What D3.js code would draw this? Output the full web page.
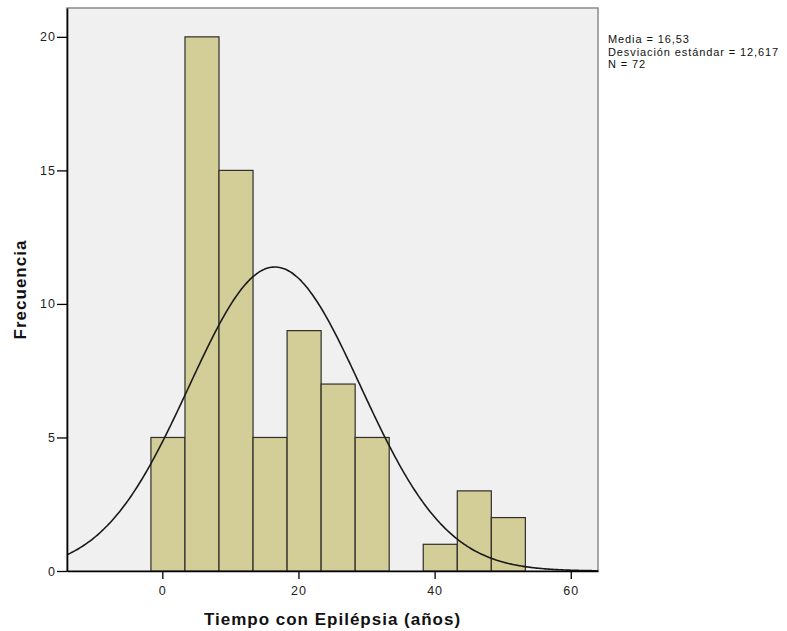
<!DOCTYPE html>
<html>
<head>
<meta charset="utf-8">
<script src="https://cdn.jsdelivr.net/npm/d3@7"></script>
<style>
  html, body { margin: 0; padding: 0; background: #ffffff; }
  svg { display: block; }
  text { font-family: Arial, "Liberation Sans", sans-serif; }
</style>
</head>
<body>
<svg id="chart" width="787" height="631"></svg>
<script>
// ---- data ----
const binStarts = [-1.67, 3.33, 8.33, 13.33, 18.33, 23.33, 28.33, 33.33, 38.33, 43.33, 48.33];
const binWidth = 5;
const counts = [5, 20, 15, 5, 9, 7, 5, 0, 1, 3, 2];
const xTicks = [0, 20, 40, 60];
const yTicks = [0, 5, 10, 15, 20];
const mean = 16.53;
const sd = 12.617;
const n = 72;
const statLines = ["Media = 16,53", "Desviación estándar = 12,617", "N = 72"];
const xTitle = "Tiempo con Epilépsia (años)";
const yTitle = "Frecuencia";

// ---- layout ----
const svg = d3.select("#chart");
const pL = 67, pR = 598, pT = 8, pB = 571;

const x = d3.scaleLinear().domain([-14, 64]).range([pL, pR]);
const y = d3.scaleLinear().domain([0, 21.08]).range([pB, pT]);

// plot background
svg.append("rect")
  .attr("x", pL).attr("y", pT)
  .attr("width", pR - pL).attr("height", pB - pT)
  .attr("fill", "#f0f0f0")
  .attr("stroke", "#8a8a8a").attr("stroke-width", 1.5);

svg.append("defs").append("clipPath").attr("id", "clip")
  .append("rect").attr("x", pL).attr("y", pT)
  .attr("width", pR - pL).attr("height", pB - pT);

// bars
const bins = binStarts.map((s, i) => ({x0: s, x1: s + binWidth, c: counts[i]}));
svg.append("g").selectAll("rect")
  .data(bins.filter(d => d.c > 0))
  .join("rect")
  .attr("x", d => x(d.x0))
  .attr("y", d => y(d.c))
  .attr("width", d => x(d.x1) - x(d.x0))
  .attr("height", d => y(0) - y(d.c))
  .attr("fill", "#d3ce97")
  .attr("stroke", "#2f2f2a")
  .attr("stroke-width", 1.2);

// normal curve (fitted from mean, sd, n and bin width)
const dens = v => n * binWidth / (sd * Math.sqrt(2 * Math.PI)) * Math.exp(-0.5 * ((v - mean) / sd) ** 2);
const xs = d3.range(-14, 64.01, 0.25);
svg.append("path")
  .datum(xs)
  .attr("clip-path", "url(#clip)")
  .attr("fill", "none")
  .attr("stroke", "#1a1a1a")
  .attr("stroke-width", 1.6)
  .attr("d", d3.line().x(d => x(d)).y(d => y(dens(d))).curve(d3.curveBasis));

// axes
const xAxis = svg.append("g")
  .attr("transform", `translate(0,${pB})`)
  .call(d3.axisBottom(x).tickValues(xTicks).tickSize(8).tickSizeOuter(0).tickFormat(d3.format("d")));
xAxis.select(".domain").attr("stroke", "#000").attr("stroke-width", 1.6);
xAxis.selectAll(".tick line").attr("stroke", "#000").attr("stroke-width", 1.3);
xAxis.selectAll(".tick text").attr("font-size", 12.5).attr("fill", "#222").attr("dy", "1.05em")
  .attr("letter-spacing", 1)
  .style("font-family", "Arial, 'Liberation Sans', sans-serif");

const yAxis = svg.append("g")
  .attr("transform", `translate(${pL},0)`)
  .call(d3.axisLeft(y).tickValues(yTicks).tickSize(10).tickSizeOuter(0).tickPadding(1).tickFormat(d3.format("d")));
yAxis.select(".domain").attr("stroke", "#000").attr("stroke-width", 1.6);
yAxis.selectAll(".tick line").attr("stroke", "#000").attr("stroke-width", 1.3);
yAxis.selectAll(".tick text").attr("font-size", 12.5).attr("fill", "#222")
  .attr("letter-spacing", 1)
  .style("font-family", "Arial, 'Liberation Sans', sans-serif");

// titles
svg.append("text")
  .attr("x", (pL + pR) / 2).attr("y", 625)
  .attr("text-anchor", "middle")
  .attr("font-size", 17).attr("font-weight", "bold").attr("fill", "#111")
  .attr("letter-spacing", 1)
  .text(xTitle);

svg.append("text")
  .attr("transform", `translate(26,${(pT + pB) / 2}) rotate(-90)`)
  .attr("text-anchor", "middle")
  .attr("font-size", 17).attr("font-weight", "bold").attr("fill", "#111")
  .attr("letter-spacing", 1)
  .text(yTitle);

// stats
svg.append("g").selectAll("text")
  .data(statLines)
  .join("text")
  .attr("x", 608)
  .attr("y", (d, i) => 43.3 + i * 12.3)
  .attr("font-size", 11).attr("fill", "#111")
  .attr("letter-spacing", 0.9)
  .text(d => d);
</script>
</body>
</html>
